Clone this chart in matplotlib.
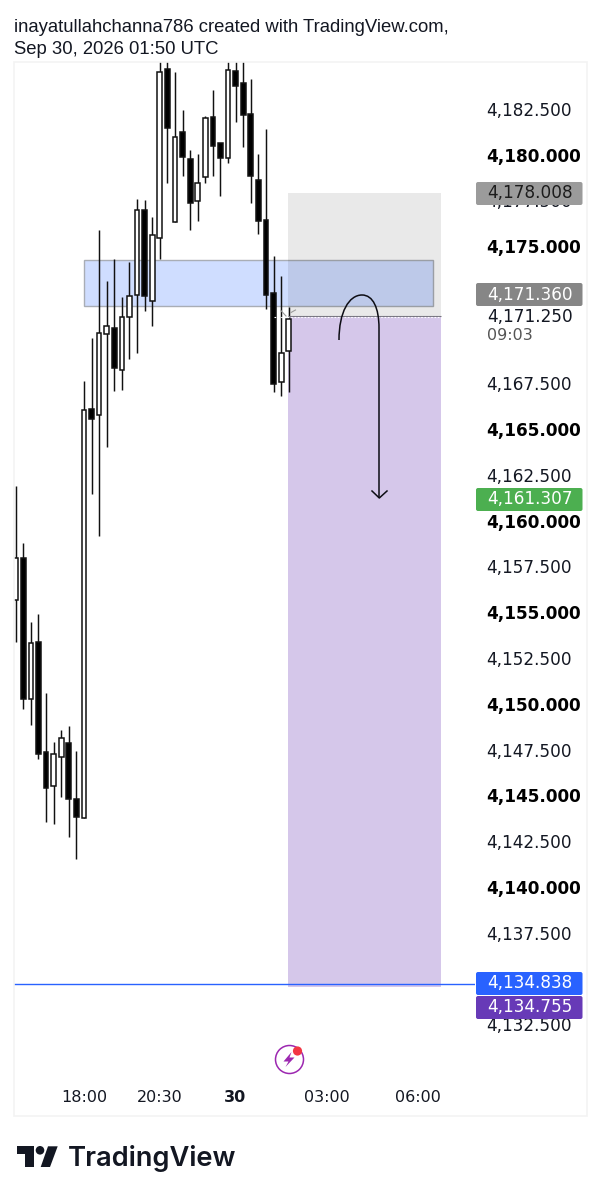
import matplotlib
matplotlib.use("Agg")
import matplotlib.pyplot as plt
from matplotlib.patches import Rectangle, FancyBboxPatch, Circle, Polygon, PathPatch
from matplotlib.path import Path
import numpy as np

W, H = 601, 1199

# candles
opens = [4155.78, 4158.06, 4150.39, 4153.48, 4147.46, 4145.60, 4147.22, 4147.95, 4144.89, 4143.89,
         4166.19, 4165.90, 4170.29, 4170.62, 4168.32, 4171.22, 4172.45, 4177.08, 4172.11, 4175.53,
         4184.76, 4176.41, 4181.35, 4179.86, 4177.55, 4178.90, 4182.17, 4180.72, 4179.92, 4184.65,
         4184.03, 4182.30, 4178.73, 4176.52, 4172.54, 4167.70, 4169.38]
closes = [4158.09, 4150.39, 4153.41, 4147.38, 4145.51, 4147.35, 4148.22, 4144.93, 4143.93, 4166.16,
          4165.66, 4170.34, 4170.73, 4168.43, 4171.23, 4172.36, 4177.09, 4172.38, 4175.70, 4184.60,
          4181.57, 4181.08, 4179.96, 4177.46, 4178.57, 4182.10, 4180.59, 4179.92, 4184.71, 4183.85,
          4182.27, 4178.92, 4176.46, 4172.42, 4167.56, 4169.28, 4171.14]
highs = [4162.00, 4158.91, 4154.59, 4155.01, 4150.68, 4148.02, 4148.66, 4148.91, 4147.53, 4167.74,
         4170.09, 4175.97, 4173.20, 4174.39, 4172.34, 4174.22, 4177.68, 4177.64, 4176.71, 4185.54,
         4185.54, 4184.63, 4182.52, 4180.35, 4180.12, 4182.23, 4183.63, 4180.72, 4185.54, 4185.54,
         4185.54, 4184.23, 4180.12, 4181.50, 4174.58, 4173.46, 4171.80]
lows = [4153.50, 4149.84, 4148.95, 4147.08, 4143.65, 4143.54, 4145.04, 4142.85, 4141.65, 4143.89,
        4161.57, 4159.27, 4164.15, 4167.18, 4167.25, 4168.94, 4169.25, 4171.56, 4170.76, 4174.39,
        4178.54, 4176.41, 4178.95, 4175.97, 4176.46, 4178.54, 4178.95, 4177.86, 4179.66, 4181.87,
        4180.54, 4177.44, 4175.75, 4171.67, 4167.15, 4166.94, 4167.15]

price_ticks = [4182.5, 4180, 4177.5, 4175, 4167.5, 4165, 4162.5, 4160, 4157.5, 4155, 4152.5, 4150,
               4147.5, 4145, 4142.5, 4140, 4137.5, 4132.5]
time_ticks = [9.1, 19.0, 28.9, 41.0, 53.0]
time_labels = ["18:00", "20:30", "30", "03:00", "06:00"]

entry = 4171.25
target = 4134.838
stop = 4178.008
zone_low, zone_high = 4171.81, 4174.37

# pixel layout of the chart pane
ax_l, ax_r, ax_t, ax_b = 14, 475, 62, 1080
px_per_bar = 7.585
px_per_unit = 18.31


def price_y(p):
    return 156.5 + (4180 - p) * px_per_unit


fig = plt.figure(figsize=(W / 100, H / 100), dpi=100, facecolor="white")
ax = fig.add_axes([ax_l / W, 1 - ax_b / H, (ax_r - ax_l) / W, (ax_b - ax_t) / H])
ax.set_xlim((ax_l - 15.7) / px_per_bar, (ax_r - 15.7) / px_per_bar)
ax.set_ylim(4180 - (ax_b - 156.5) / px_per_unit, 4180 + (156.5 - ax_t) / px_per_unit)
for s in ax.spines.values():
    s.set_visible(False)

x = np.arange(len(opens))
o, c = np.array(opens), np.array(closes)
ax.add_patch(Rectangle((9.04, zone_low), 45.96, zone_high - zone_low, fc="#cfddff", ec="#a9adb5", lw=1.0, zorder=1))
ax.add_patch(Rectangle((35.9, entry), 20.15, stop - entry, fc="black", alpha=0.086, lw=0, zorder=5))
ax.add_patch(Rectangle((35.9, target - 0.17), 20.15, entry - target + 0.17, fc="#d5c7ea", lw=0, zorder=1))

ax.vlines(x, lows, highs, color="#111111", lw=1.05, zorder=3)
ax.bar(x, np.abs(c - o), bottom=np.minimum(o, c), width=0.62,
       color=["white" if u else "black" for u in c > o], edgecolor="#111111", linewidth=1.1, zorder=4)

ax.hlines(entry + 0.04, 35.9, 56.05, color="#77757f", lw=0.8, zorder=6)
ax.hlines(entry, 34.1, 56.05, color="white", lw=0.8, linestyles=(0, (1.5, 1.5)), zorder=7)
ax.axhline(target - 0.04, color="#2962ff", lw=1.0, zorder=6)

ax.set_yticks(price_ticks)
ax.set_yticklabels([f"{p:,.3f}" for p in price_ticks])
ax.yaxis.tick_right()
ax.tick_params(axis="y", length=0, pad=8, labelsize=12.2, labelcolor="#131722")
for p, lab in zip(price_ticks, ax.get_yticklabels()):
    lab.set_verticalalignment("center")
    if p % 5 == 0:
        lab.set_fontweight("bold")
        lab.set_color("black")
ax.set_xticks(time_ticks)
ax.set_xticklabels(time_labels)
ax.tick_params(axis="x", length=0, pad=7.5, labelsize=11.5, labelcolor="#131722")
ax.get_xticklabels()[2].set_fontweight("bold")

# overlay in pixels for the chrome
ov = fig.add_axes([0, 0, 1, 1], zorder=10)
ov.set_xlim(0, W)
ov.set_ylim(H, 0)
ov.axis("off")
ov.patch.set_alpha(0)

ov.add_patch(Rectangle((14, 62), 573, 1053.5, fc="none", ec="#f3f3f3", lw=1.2))

ov.text(14, 28, "inayatullahchanna786 created with TradingView.com,", fontsize=13.3,
        family="Liberation Sans", va="center", color="#131722")
ov.text(14, 49, "Sep 30, 2026 01:50 UTC", fontsize=13.3, family="Liberation Sans", va="center", color="#131722")

# price tags on the scale, the tags are pushed apart so they do not sit on their exact price
tags = [("4,178.008", 193.5, "#9b9b9b", "#1c1c1c"),
        ("4,171.360", 294.5, "#868686", "white"),
        ("4,161.307", 499.5, "#4caf50", "white"),
        ("4,134.838", 983.5, "#2962ff", "white"),
        ("4,134.755", 1007.5, "#673ab7", "white")]
for txt, yc, bg, fg in tags:
    ov.add_patch(FancyBboxPatch((476, yc - 11.5), 106.5, 23, boxstyle="round,pad=0,rounding_size=2", fc=bg, lw=0))
    ov.text(487, yc, txt, fontsize=12.2, family="DejaVu Sans", color=fg, va="center")
ov.text(487, price_y(entry), "4,171.250", fontsize=12.2, color="#131722", va="center")
ov.text(487, 336, "09:03", fontsize=11.5, color="#555555", va="center")

# hand drawn arrow
arrow = Path([(339, 340), (339, 312), (349, 295), (362, 295), (373, 295), (379, 308), (379, 328), (379, 498)],
             [Path.MOVETO, Path.CURVE4, Path.CURVE4, Path.CURVE4, Path.CURVE4, Path.CURVE4, Path.CURVE4, Path.LINETO])
ov.add_patch(PathPatch(arrow, fc="none", ec="#0d0d14", lw=1.1))
ov.plot([372, 379.3, 387], [491, 498, 491], color="#0d0d14", lw=1.1)

# small cross marks by the position tool
ov.plot([281, 286], [310.7, 316], color="#9a9a9a", lw=0.8)
ov.plot([291, 295.5], [312.5, 310], color="#9a9a9a", lw=0.8)

# bolt icon
ov.add_patch(Circle((289.5, 1059.5), 14, fc="white", ec="#9c27b0", lw=1.1))
ov.add_patch(Polygon([(291.5, 1052), (283.5, 1061.5), (288.5, 1061.5), (285.5, 1067), (294.5, 1057.5), (289.5, 1057.5)],
                     fc="#9c27b0", lw=0))
ov.add_patch(Circle((297.5, 1051), 4.6, fc="#f23645", ec="none"))

# logo
ov.add_patch(Polygon([(16.7, 1146.3), (34, 1146.3), (34, 1167), (25.3, 1167), (25.3, 1154), (16.7, 1154)], fc="#131722", lw=0))
ov.add_patch(Circle((40, 1150.3), 4.3, fc="#131722", lw=0))
ov.add_patch(Polygon([(48, 1146.3), (57.7, 1146.3), (50, 1167), (40.7, 1167)], fc="#131722", lw=0))
ov.text(67.5, 1158, "TradingView", fontsize=19.7, family="Inter", weight="semibold", color="#131722", va="center")

fig.savefig("out.png", dpi=100)
